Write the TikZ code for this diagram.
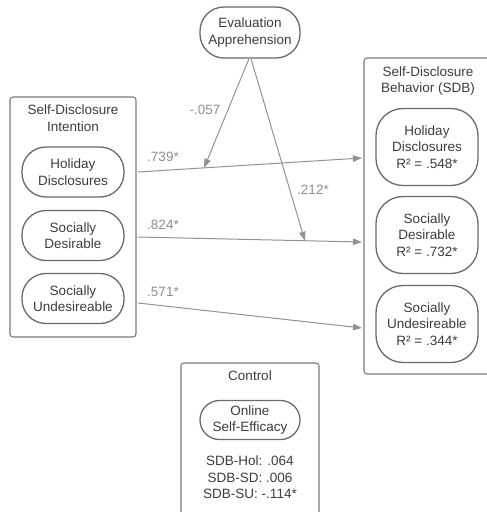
\documentclass[tikz,border=0pt]{standalone}
\usepackage{fontspec}
\setmainfont{Liberation Sans}
\usetikzlibrary{arrows.meta,calc}

\definecolor{txtgray}{HTML}{3C3C3C}
\definecolor{coefgray}{HTML}{8E8E8E}
\definecolor{wiregray}{HTML}{929292}
\definecolor{pillgray}{HTML}{6A6A6A}
\definecolor{boxgray}{HTML}{7A7A7A}

\tikzset{
  group/.style={draw=boxgray, line width=1.1pt, rounded corners=3pt, inner sep=0pt},
  pill/.style={draw=pillgray, line width=1.3pt, rounded corners=24pt, align=center,
    minimum width=102pt, minimum height=50pt, inner sep=0pt, text=txtgray},
  heading/.style={align=center, text=txtgray, inner sep=0pt},
  wire/.style={draw=wiregray, line width=1pt, -{Triangle[length=9pt,width=6.5pt]}},
  coef/.style={text=coefgray, inner sep=0pt}
}

\begin{document}
\begin{tikzpicture}[x=1pt, y=-1pt, font=\fontsize{13.5}{16.5}\selectfont]
\useasboundingbox (0,0) rectangle (487,512);

% groups
\node[group, minimum width=126pt, minimum height=240pt] (sdi) at (73,217) {};
\node[group, minimum width=136pt, minimum height=316pt] (sdb) at (432,216) {};
\node[group, minimum width=138pt, minimum height=157pt] (ctrl) at (250,441.5) {};

\node[heading] (sdiT) at (73,118) {Self-Disclosure\\Intention};
\node[heading] (sdbT) at (428,81) {Self-Disclosure\\Behavior (SDB)};
\node[heading] (ctrlT) at (250,376) {Control};

% moderator
\node[pill, minimum width=100pt, minimum height=51pt] (eval) at (250,32.5) {Evaluation\\Apprehension};

% intention
\node[pill] (hdL) at (73,172) {Holiday\\Disclosures};
\node[pill] (sdL) at (73,235.5) {Socially\\Desirable};
\node[pill] (suL) at (73,298.5) {Socially\\Undesireable};

% behavior
\node[pill, minimum height=77pt, rounded corners=27pt] (hdR) at (427,147) {Holiday\\Disclosures\\R² = .548*};
\node[pill, minimum height=77pt, rounded corners=27pt] (sdR) at (427,235) {Socially\\Desirable\\R² = .732*};
\node[pill, minimum height=77pt, rounded corners=27pt] (suR) at (427,324) {Socially\\Undesireable\\R² = .344*};

% control
\node[pill, minimum width=100pt, minimum height=39pt, rounded corners=19.5pt] (ose) at (250,420) {Online\\Self-Efficacy};
\node[heading] (ctrlV) at (250,477.5) {SDB-Hol: .064\\SDB-SD: .006\\SDB-SU: -.114*};

% paths
\coordinate (hdOut) at (138,172);
\coordinate (hdIn) at (362,158);
\coordinate (sdOut) at (138,237);
\coordinate (sdIn) at (362,242);
\coordinate (suOut) at (138,303);
\coordinate (suIn) at (362,328);

\draw[wire] (hdOut) -- (hdIn);
\draw[wire] (sdOut) -- (sdIn);
\draw[wire] (suOut) -- (suIn);

\draw[wire] ([xshift=-1pt]eval.south) -- ($(hdOut)!0.295!(hdIn)$);
\draw[wire] ([xshift=1pt]eval.south) -- ($(sdOut)!0.745!(sdIn)$);

\node[coef] (cHD) at (163,157) {.739*};
\node[coef] (cSD) at (163,225) {.824*};
\node[coef] (cSU) at (163,292) {.571*};
\node[coef] (cE1) at (205,110) {-.057};
\node[coef] (cE2) at (313,190) {.212*};
\end{tikzpicture}
\end{document}
